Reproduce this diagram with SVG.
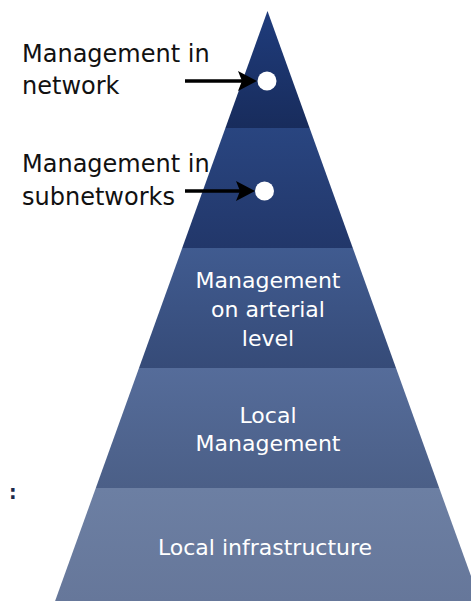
<svg xmlns="http://www.w3.org/2000/svg" width="471" height="601" viewBox="0 0 471 601">
  <defs>
    <linearGradient id="g1" x1="0" y1="0" x2="0" y2="1"><stop offset="0" stop-color="#1f3c7c"/><stop offset="1" stop-color="#182c5c"/></linearGradient>
    <linearGradient id="g2" x1="0" y1="0" x2="0" y2="1"><stop offset="0" stop-color="#294580"/><stop offset="1" stop-color="#22376a"/></linearGradient>
    <linearGradient id="g3" x1="0" y1="0" x2="0" y2="1"><stop offset="0" stop-color="#405b90"/><stop offset="1" stop-color="#364b78"/></linearGradient>
    <linearGradient id="g4" x1="0" y1="0" x2="0" y2="1"><stop offset="0" stop-color="#556c9a"/><stop offset="1" stop-color="#4b5f87"/></linearGradient>
    <linearGradient id="g5" x1="0" y1="0" x2="0" y2="1"><stop offset="0" stop-color="#6c7fa3"/><stop offset="1" stop-color="#66779a"/></linearGradient>
  </defs>
  <style>
    .in { font-family: "DejaVu Sans", Verdana, sans-serif; font-size: 22px; fill: #ffffff; text-anchor: middle; }
    .lbl { font-family: "DejaVu Sans", Verdana, sans-serif; font-size: 24px; fill: #111111; }
    .arr { stroke: #000000; stroke-width: 3.5; fill: none; }
    .head { fill: #000000; }
    .dot { fill: #ffffff; }
  </style>
  <rect width="471" height="601" fill="#ffffff"/>
  <g id="level-network">
    <polygon points="267.5,11 309.6,128 225.4,128" fill="url(#g1)"/>
    <circle class="dot" cx="267" cy="81" r="9.5"/>
  </g>
  <g id="level-subnetworks">
    <polygon points="225.4,128 309.6,128 352.8,248 182.2,248" fill="url(#g2)"/>
    <circle class="dot" cx="264.5" cy="191" r="9.5"/>
  </g>
  <g id="level-arterial">
    <polygon points="182.2,248 352.8,248 396,368 139,368" fill="url(#g3)"/>
    <text class="in" x="268" y="288" font-size="22.8">Management</text>
    <text class="in" x="268" y="317" font-size="22.8">on arterial</text>
    <text class="in" x="268" y="346" font-size="22.8">level</text>
  </g>
  <g id="level-local-management">
    <polygon points="139,368 396,368 439.2,488 95.8,488" fill="url(#g4)"/>
    <text class="in" x="268" y="423" font-size="22.8">Local</text>
    <text class="in" x="268" y="451" font-size="22.8">Management</text>
  </g>
  <g id="level-local-infrastructure">
    <polygon points="95.8,488 439.2,488 480,601 55.1,601" fill="url(#g5)"/>
    <text class="in" x="265" y="555">Local infrastructure</text>
  </g>
  <g id="label-network">
    <text class="lbl" x="22" y="62">Management in</text>
    <text class="lbl" x="22" y="94">network</text>
  </g>
  <g id="label-subnetworks">
    <text class="lbl" x="22" y="172">Management in</text>
    <text class="lbl" x="22" y="205">subnetworks</text>
  </g>
  <g id="connectors">
    <line class="arr" x1="185" y1="81" x2="242" y2="81"/>
    <polygon class="head" points="257,81 238,71 242,81 238,91"/>
    <line class="arr" x1="185" y1="191" x2="240" y2="191"/>
    <polygon class="head" points="255,191 236,181 240,191 236,201"/>
  </g>
  <text x="9" y="499" font-family="DejaVu Sans, sans-serif" font-size="19" font-weight="bold" fill="#1a2a4a">:</text>
</svg>
